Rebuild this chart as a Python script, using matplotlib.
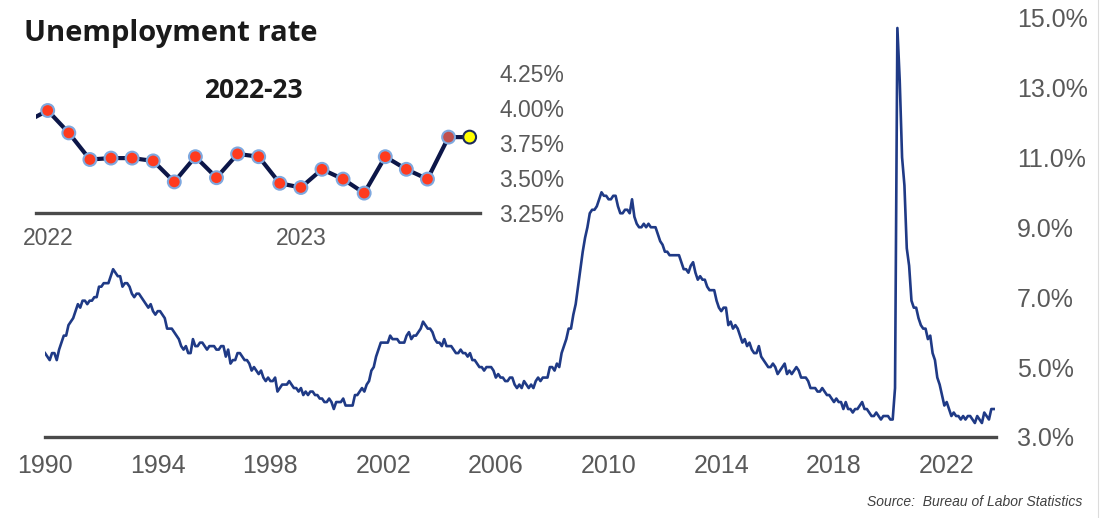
import matplotlib.pyplot as plt
import numpy as np
from matplotlib.lines import Line2D

plt.rcParams['font.family'] = ['Liberation Sans', 'DejaVu Sans']

# monthly unemployment rate (%), Jan 1990 - Sep 2023
rate_1990s = [
    5.4, 5.3, 5.2, 5.4, 5.4, 5.2, 5.5, 5.7, 5.9, 5.9, 6.2, 6.3,
    6.4, 6.6, 6.8, 6.7, 6.9, 6.9, 6.8, 6.9, 6.9, 7.0, 7.0, 7.3,
    7.3, 7.4, 7.4, 7.4, 7.6, 7.8, 7.7, 7.6, 7.6, 7.3, 7.4, 7.4,
    7.3, 7.1, 7.0, 7.1, 7.1, 7.0, 6.9, 6.8, 6.7, 6.8, 6.6, 6.5,
    6.6, 6.6, 6.5, 6.4, 6.1, 6.1, 6.1, 6.0, 5.9, 5.8, 5.6, 5.5,
    5.6, 5.4, 5.4, 5.8, 5.6, 5.6, 5.7, 5.7, 5.6, 5.5, 5.6, 5.6,
    5.6, 5.5, 5.5, 5.6, 5.6, 5.3, 5.5, 5.1, 5.2, 5.2, 5.4, 5.4,
    5.3, 5.2, 5.2, 5.1, 4.9, 5.0, 4.9, 4.8, 4.9, 4.7, 4.6, 4.7,
    4.6, 4.6, 4.7, 4.3, 4.4, 4.5, 4.5, 4.5, 4.6, 4.5, 4.4, 4.4,
    4.3, 4.4, 4.2, 4.3, 4.2, 4.3, 4.3, 4.2, 4.2, 4.1, 4.1, 4.0,
]
rate_2000s = [
    4.0, 4.1, 4.0, 3.8, 4.0, 4.0, 4.0, 4.1, 3.9, 3.9, 3.9, 3.9,
    4.2, 4.2, 4.3, 4.4, 4.3, 4.5, 4.6, 4.9, 5.0, 5.3, 5.5, 5.7,
    5.7, 5.7, 5.7, 5.9, 5.8, 5.8, 5.8, 5.7, 5.7, 5.7, 5.9, 6.0,
    5.8, 5.9, 5.9, 6.0, 6.1, 6.3, 6.2, 6.1, 6.1, 6.0, 5.8, 5.7,
    5.7, 5.6, 5.8, 5.6, 5.6, 5.6, 5.5, 5.4, 5.4, 5.5, 5.4, 5.4,
    5.3, 5.4, 5.2, 5.2, 5.1, 5.0, 5.0, 4.9, 5.0, 5.0, 5.0, 4.9,
    4.7, 4.8, 4.7, 4.7, 4.6, 4.6, 4.7, 4.7, 4.5, 4.4, 4.5, 4.4,
    4.6, 4.5, 4.4, 4.5, 4.4, 4.6, 4.7, 4.6, 4.7, 4.7, 4.7, 5.0,
    5.0, 4.9, 5.1, 5.0, 5.4, 5.6, 5.8, 6.1, 6.1, 6.5, 6.8, 7.3,
    7.8, 8.3, 8.7, 9.0, 9.4, 9.5, 9.5, 9.6, 9.8, 10.0, 9.9, 9.9,
]
rate_2010s = [
    9.8, 9.8, 9.9, 9.9, 9.6, 9.4, 9.4, 9.5, 9.5, 9.4, 9.8, 9.3,
    9.1, 9.0, 9.0, 9.1, 9.0, 9.1, 9.0, 9.0, 9.0, 8.8, 8.6, 8.5,
    8.3, 8.3, 8.2, 8.2, 8.2, 8.2, 8.2, 8.0, 7.8, 7.8, 7.7, 7.9,
    8.0, 7.7, 7.5, 7.6, 7.5, 7.5, 7.3, 7.2, 7.2, 7.2, 6.9, 6.7,
    6.6, 6.7, 6.7, 6.2, 6.3, 6.1, 6.2, 6.1, 5.9, 5.7, 5.8, 5.6,
    5.7, 5.5, 5.4, 5.4, 5.6, 5.3, 5.2, 5.1, 5.0, 5.0, 5.1, 5.0,
    4.8, 4.9, 5.0, 5.1, 4.8, 4.9, 4.8, 4.9, 5.0, 4.9, 4.7, 4.7,
    4.7, 4.6, 4.4, 4.4, 4.4, 4.3, 4.3, 4.4, 4.3, 4.2, 4.2, 4.1,
    4.0, 4.1, 4.0, 4.0, 3.8, 4.0, 3.8, 3.8, 3.7, 3.8, 3.8, 3.9,
    4.0, 3.8, 3.8, 3.7, 3.6, 3.6, 3.7, 3.6, 3.5, 3.6, 3.6, 3.6,
]
rate_2020s = [
    3.5, 3.5, 4.4, 14.7, 13.2, 11.0, 10.2, 8.4, 7.9, 6.9, 6.7, 6.7,
    6.4, 6.2, 6.1, 6.1, 5.8, 5.9, 5.4, 5.2, 4.7, 4.5, 4.2, 3.9,
    4.0, 3.8, 3.6, 3.7, 3.6, 3.6, 3.5, 3.6, 3.5, 3.6, 3.6, 3.5,
    3.4, 3.6, 3.5, 3.4, 3.7, 3.6, 3.5, 3.8, 3.8,
]
main_ticks = [3, 5, 7, 9, 11, 13, 15]
year_ticks = [1990, 1994, 1998, 2002, 2006, 2010, 2014, 2018, 2022]

# inset: Dec 2021 (lead-in only) then Jan 2022 - Sep 2023
inset_rate = [3.9, 3.98, 3.82, 3.63, 3.64, 3.64, 3.62, 3.47, 3.65, 3.50, 3.67, 3.65,
              3.46, 3.43, 3.56, 3.49, 3.39, 3.65, 3.56, 3.49, 3.79, 3.79]
inset_ticks = [3.25, 3.50, 3.75, 4.00, 4.25]
inset_years = ['2022', '2023']

W, H = 1109, 518
fig = plt.figure(figsize=(W / 100, H / 100), dpi=100)
grey = '#595959'

# main chart
rates = np.array(rate_1990s + rate_2000s + rate_2010s + rate_2020s)
years = 1990 + np.arange(len(rates)) / 12

ax = fig.add_axes([45 / W, 1 - 437 / H, (996 - 45) / W, (437 - 17.5) / H])
ax.plot(years, rates, color='#1f3a86', lw=1.9)
ax.set_xlim(1990, 2023.75)
ax.set_ylim(3, 15)
for s in ['top', 'left', 'right']:
    ax.spines[s].set_visible(False)
ax.spines['bottom'].set_color('#4a4a4a')
ax.spines['bottom'].set_linewidth(2.4)
ax.yaxis.tick_right()
ax.set_yticks(main_ticks)
ax.set_yticklabels([f'{v:.1f}%' for v in main_ticks])
ax.set_xticks(year_ticks)
ax.set_xticklabels([str(y) for y in year_ticks])
ax.tick_params(axis='y', length=0, pad=15, labelsize=18, labelcolor=grey)
ax.tick_params(axis='x', length=0, pad=12, labelsize=18, labelcolor=grey)

# inset 2022-23
ax2 = fig.add_axes([36 / W, 1 - 212.7 / H, (480 - 36) / W, 140 / H])
ax2.patch.set_alpha(0)
mx = np.arange(len(inset_rate)) - 1
ax2.plot(mx, inset_rate, color='#0c1648', lw=3.0, zorder=2)
faces = ['#ff3b1f'] * (len(inset_rate) - 3) + ['#c0504d', '#ffff00']
edges = ['#7ea8df'] * (len(inset_rate) - 2) + ['#1b2a5c']
ax2.scatter(mx[1:], inset_rate[1:], s=85, c=faces, edgecolors=edges, linewidths=1.5, zorder=3)
ax2.set_xlim(-0.555, 20.49)
ax2.set_ylim(3.25, 4.25)
for s in ['top', 'left', 'right']:
    ax2.spines[s].set_visible(False)
ax2.spines['bottom'].set_color('#4a4a4a')
ax2.spines['bottom'].set_linewidth(2.4)
ax2.yaxis.tick_right()
ax2.set_yticks(inset_ticks)
ax2.set_yticklabels([f'{v:.2f}%' for v in inset_ticks])
ax2.set_xticks([0, 12])
ax2.set_xticklabels(inset_years)
ax2.tick_params(axis='y', length=0, pad=14, labelsize=16.5, labelcolor=grey)
ax2.tick_params(axis='x', length=0, pad=10, labelsize=16.5, labelcolor=grey)

fig.text(24 / W, 1 - 33 / H, 'Unemployment rate', family='Open Sans', weight='bold',
         fontsize=21, color='#1a1a1a', va='center', ha='left')
fig.text(253 / W, 1 - 91 / H, '2022-23', family='Open Sans', weight='bold',
         fontsize=19, color='#1a1a1a', va='center', ha='center')
fig.text(1082 / W, 1 - 502 / H, 'Source:  Bureau of Labor Statistics', style='italic',
         fontsize=10, color='#404040', va='center', ha='right')

fig.add_artist(Line2D([1098 / W, 1098 / W], [0, 1], color='#dcdcdc', lw=0.8))

fig.savefig('out.png', dpi=100)
